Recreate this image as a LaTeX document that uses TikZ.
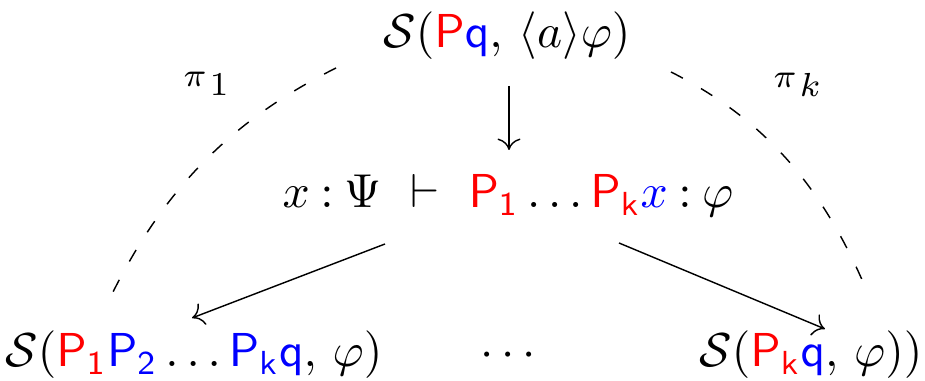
\documentclass[tikz,border=0pt]{standalone}
\usetikzlibrary{arrows.meta}
\definecolor{pred}{RGB}{255,0,0}
\definecolor{pblue}{RGB}{0,0,255}
\newcommand{\cred}[1]{{\color{pred}#1}}
\newcommand{\cblu}[1]{{\color{pblue}#1}}
\tikzset{
  lbl/.style={inner sep=0pt, anchor=base},
  plbl/.style={inner sep=0pt, anchor=base, font=\fontsize{6.8}{7}\selectfont},
  arr/.style={-{To[length=2.4pt,width=4.8pt]}, line width=0.3pt},
  arcline/.style={dash pattern=on 2.8pt off 4.4pt, line width=0.3pt},
}
\begin{document}
\begin{tikzpicture}[x=0.21pt,y=-0.21pt]
\useasboundingbox (0,0) rectangle (925,381);
\node[lbl] (top) at (507,48) {$\mathcal{S}(\cred{\mathsf{P}}\cblu{\mathsf{q}},\,\langle a\rangle\varphi)$};
\node[lbl] (mid) at (508,208) {$x\mathbin{:}\Psi\ \vdash\ \cred{\mathsf{P}_{\mathsf{1}}}\ldots\cred{\mathsf{P}_{\mathsf{k}}}\cblu{x}\mathbin{:}\varphi$};
\node[lbl] (bl) at (194,367) {$\mathcal{S}(\cred{\mathsf{P}_{\mathsf{1}}}\cblu{\mathsf{P}_{\mathsf{2}}}\ldots\cblu{\mathsf{P}_{\mathsf{k}}\mathsf{q}},\,\varphi)$};
\node[lbl] (dots) at (508,367) {$\cdots$};
\node[lbl] (br) at (811,367) {$\mathcal{S}(\cred{\mathsf{P}_{\mathsf{k}}}\cblu{\mathsf{q}},\,\varphi))$};
\node[plbl] (p1) at (206,87) {$\pi$\hspace{0.6pt}\raisebox{-1.8pt}{$1$}};
\node[plbl] (pk) at (797,88) {$\pi$\hspace{0.6pt}\raisebox{-1.8pt}{$k$}};
% connector ends
\coordinate (t0) at (509,86);
\coordinate (t1) at (509,150);
\coordinate (mL) at (385,244);
\coordinate (bL) at (192,318);
\coordinate (mR) at (619,243);
\coordinate (bR) at (825,329);
\coordinate (dL0) at (336,68);
\coordinate (dL1) at (112,294);
\coordinate (dR0) at (671,72);
\coordinate (dR1) at (869,296);
\draw[arr] (t0) -- (t1);
\draw[arr] (mL) -- (bL);
\draw[arr] (mR) -- (bR);
\draw[arcline] (dL0) .. controls (226,123) and (162,194) .. (dL1);
\draw[arcline] (dR0) .. controls (772,123) and (827,195) .. (dR1);
\end{tikzpicture}
\end{document}
